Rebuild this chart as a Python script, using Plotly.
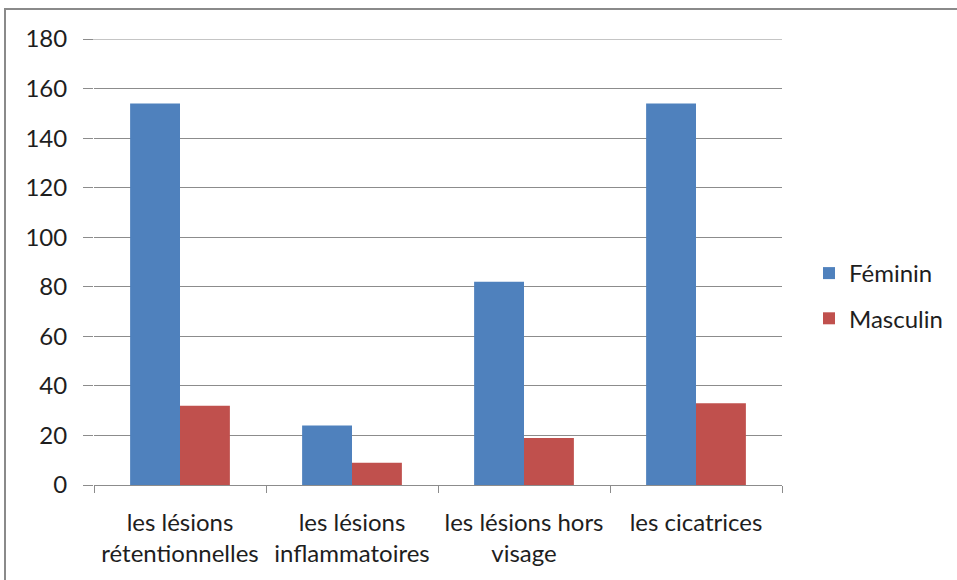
import plotly.graph_objects as go

# Categories and counts by sex
categories = [
    "les lésions<br>rétentionnelles",
    "les lésions<br>inflammatoires",
    "les lésions hors<br>visage",
    "les cicatrices",
]
feminin = [154, 24, 82, 154]
masculin = [32, 9, 19, 33]
y_ticks = [0, 20, 40, 60, 80, 100, 120, 140, 160, 180]

BLUE = "#4F81BD"
RED = "#C0504D"
GRID = "#8C8C8C"
TEXT = "#1E1E1E"
FONT = "Lato"
FS = 24

W, H = 957, 580
ML, MR, MT, MB = 94, 175, 39, 95
pw = W - ML - MR
ph = H - MT - MB


def px_x(x):
    return (x - ML) / pw


def px_y(y):
    return (H - MB - y) / ph


fig = go.Figure()
fig.add_trace(go.Bar(name="Féminin", x=categories, y=feminin,
                     marker=dict(color=BLUE, line=dict(width=0)),
                     legendgroup="f"))
fig.add_trace(go.Bar(name="Masculin", x=categories, y=masculin,
                     marker=dict(color=RED, line=dict(width=0)),
                     legendgroup="m"))

fig.update_layout(
    width=W, height=H,
    margin=dict(l=ML, r=MR, t=MT, b=MB, pad=0, autoexpand=False),
    paper_bgcolor="white", plot_bgcolor="white",
    barmode="group", bargap=0.42, bargroupgap=0,
    font=dict(family=FONT, size=FS, color=TEXT),
    legend=dict(x=px_x(809), y=px_y(251), xanchor="left", yanchor="top",
                traceorder="grouped", tracegroupgap=11,
                font=dict(family=FONT, size=FS, color=TEXT),
                bgcolor="rgba(0,0,0,0)"),
    showlegend=True,
)

fig.update_xaxes(
    type="category",
    showgrid=False,
    showline=True, linecolor=GRID, linewidth=1,
    ticks="outside", tickson="boundaries", ticklen=7,
    tickcolor=GRID, tickwidth=1,
    tickfont=dict(family=FONT, size=FS, color=TEXT),
    ticklabelstandoff=16,
)
fig.update_yaxes(
    range=[0, 180],
    tickvals=y_ticks,
    showgrid=True, gridcolor=GRID, gridwidth=1,
    zeroline=False, showline=False,
    ticks="outside", ticklen=10, tickcolor=GRID, tickwidth=1,
    tickfont=dict(family=FONT, size=FS, color=TEXT),
    ticklabelstandoff=11,
)

# Top gridline at the end of the value range
fig.add_shape(type="line", xref="paper", yref="y",
              x0=px_x(83), x1=1, y0=y_ticks[-1], y1=y_ticks[-1],
              line=dict(color=GRID, width=1))

# Outer chart frame (runs past the right and bottom edges)
fig.add_shape(type="rect", xref="paper", yref="paper",
              x0=px_x(5), x1=px_x(W + 10), y0=px_y(H + 10), y1=px_y(9),
              line=dict(color="#8A8A8A", width=2), fillcolor="rgba(0,0,0,0)",
              layer="below")

fig.write_html("out.html")
